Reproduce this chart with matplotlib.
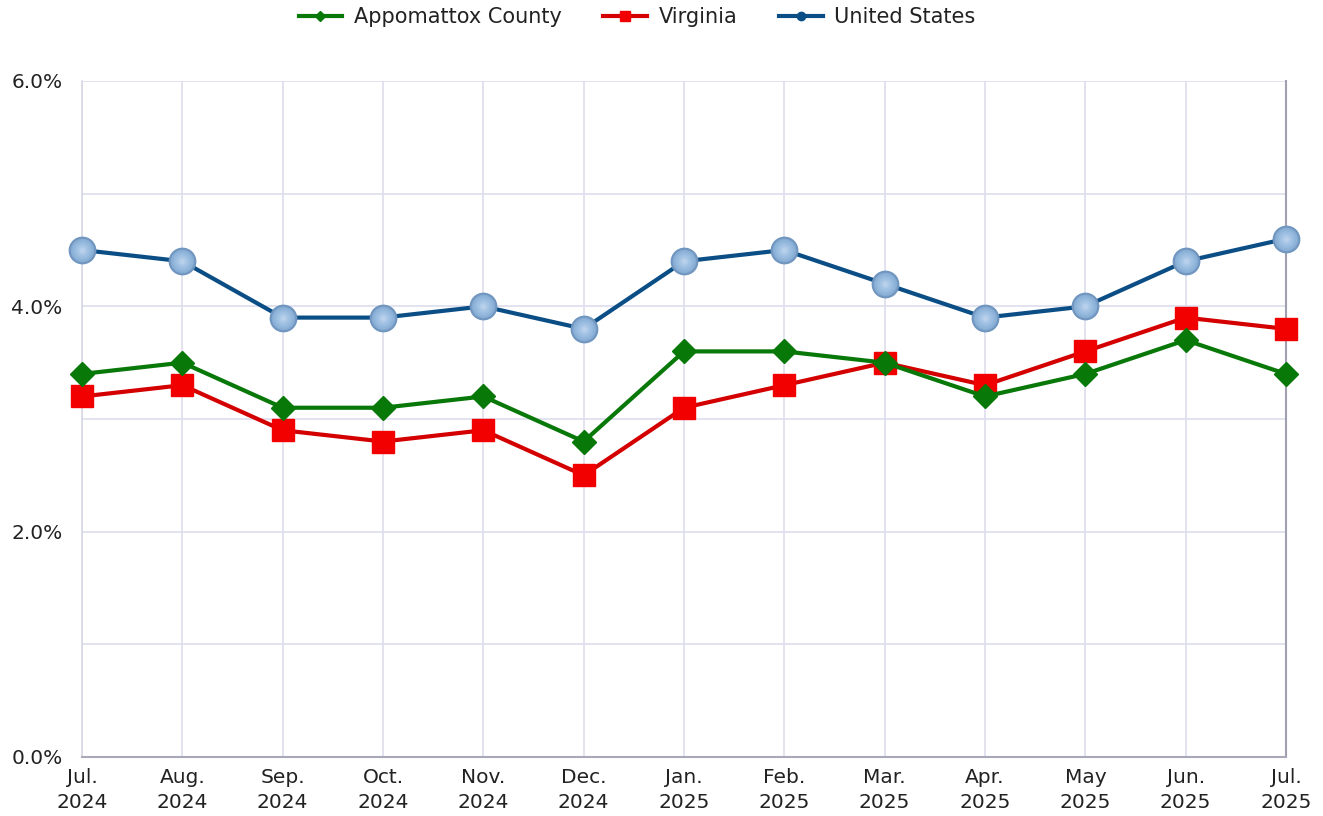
import matplotlib
matplotlib.use("Agg")
import matplotlib.pyplot as plt
from matplotlib.lines import Line2D
from matplotlib.ticker import MultipleLocator, FuncFormatter

months = ["Jul.\n2024", "Aug.\n2024", "Sep.\n2024", "Oct.\n2024", "Nov.\n2024", "Dec.\n2024",
          "Jan.\n2025", "Feb.\n2025", "Mar.\n2025", "Apr.\n2025", "May\n2025", "Jun.\n2025", "Jul.\n2025"]
appomattox = [3.4, 3.5, 3.1, 3.1, 3.2, 2.8, 3.6, 3.6, 3.5, 3.2, 3.4, 3.7, 3.4]
virginia = [3.2, 3.3, 2.9, 2.8, 2.9, 2.5, 3.1, 3.3, 3.5, 3.3, 3.6, 3.9, 3.8]
united_states = [4.5, 4.4, 3.9, 3.9, 4.0, 3.8, 4.4, 4.5, 4.2, 3.9, 4.0, 4.4, 4.6]

plt.rcParams['font.family'] = ['DejaVu Sans']
text_c = "#222222"

fig = plt.figure(figsize=(13.23, 8.16), dpi=100)
ax = fig.add_axes([82/1323, 1-757/816, (1286-82)/1323, (757-81)/816])

x = list(range(len(months)))
green = "#087808"
red_line = "#d40000"
red_mark = "#f20000"
blue_line = "#0b4e86"

ax.plot(x, united_states, color=blue_line, lw=3, zorder=3, clip_on=False,
        marker='o', markersize=18.5, markerfacecolor="#86acd3", markeredgecolor="#7096c0",
        markeredgewidth=1.5)
# soft lighter centre to suggest the shaded marker
for k, (ms, fc) in enumerate([(15, "#8fb4da"), (12, "#98bbdf"), (9, "#a2c2e3"),
                              (6, "#adc9e7"), (3.5, "#b8d0ea")]):
    ax.plot(x, united_states, lw=0, zorder=3.1 + k * 0.01, clip_on=False,
            marker='o', markersize=ms, markerfacecolor=fc, markeredgewidth=0)
ax.plot(x, virginia, color=red_line, lw=3, zorder=4, clip_on=False,
        marker='s', markersize=15.5, markerfacecolor=red_mark, markeredgecolor=red_mark)
ax.plot(x, appomattox, color=green, lw=3, zorder=5, clip_on=False,
        marker='D', markersize=12, markerfacecolor=green, markeredgecolor=green)

ax.set_xlim(0, len(months) - 1)
ax.set_ylim(0, 6)
ax.yaxis.set_major_locator(MultipleLocator(2))
ax.yaxis.set_minor_locator(MultipleLocator(1))
ax.yaxis.set_major_formatter(FuncFormatter(lambda v, p: f"{v:.1f}%"))
ax.set_xticks(x)
ax.set_xticklabels(months, fontsize=14.5, linespacing=1.4, color=text_c)
ax.tick_params(axis='y', labelsize=14.5, length=0, pad=14, labelcolor=text_c)
ax.tick_params(axis='y', which='minor', length=0)
ax.tick_params(axis='x', length=0, pad=8)

grid_c = "#dedeee"
ax.grid(True, which='both', axis='y', color=grid_c, lw=1.2, zorder=0)
ax.grid(True, which='major', axis='x', color=grid_c, lw=1.2, zorder=0)
ax.set_axisbelow(True)

ax.spines['top'].set_visible(False)
ax.spines['left'].set_color("#d8d8e4")
ax.spines['left'].set_linewidth(1.2)
ax.spines['bottom'].set_color("#a8a8b8")
ax.spines['bottom'].set_linewidth(1.5)
ax.spines['right'].set_color("#a0a0b0")
ax.spines['right'].set_linewidth(1.5)

handles = [
    Line2D([0], [0], color=green, lw=3, marker='D', markersize=5, markerfacecolor=green, markeredgecolor=green),
    Line2D([0], [0], color=red_line, lw=3, marker='s', markersize=6.5, markerfacecolor=red_mark, markeredgecolor=red_mark),
    Line2D([0], [0], color=blue_line, lw=3, marker='o', markersize=6, markerfacecolor=blue_line, markeredgecolor=blue_line),
]
leg = fig.legend(handles, ["Appomattox County", "Virginia", "United States"],
                 loc='center', bbox_to_anchor=(637/1323, 1-17/816), ncol=3, frameon=False,
                 fontsize=15, handlelength=2.1, columnspacing=2.0, handletextpad=0.55)
for t in leg.get_texts():
    t.set_color(text_c)

fig.savefig("out.png", dpi=100, facecolor="white")
